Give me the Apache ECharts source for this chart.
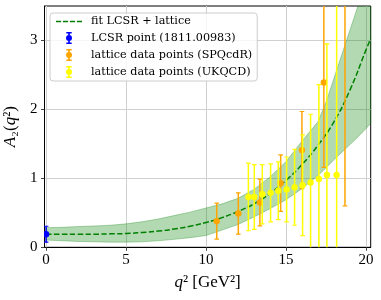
<!DOCTYPE html>
<html><head><meta charset="utf-8">
<script src="https://cdn.jsdelivr.net/npm/echarts@6/dist/echarts.min.js"></script>
<style>html,body{margin:0;padding:0;background:#fff}#c{width:381px;height:300px}</style>
</head><body><div id="c"></div>
<script>
// ---- data ----
const xTicks = [0, 5, 10, 15, 20];
const yTicks = [0, 1, 2, 3];

const fitX = [0,1,2,3,4,5,6,7,8,9,10,11,12,13,14,15,16,17,18,19,20,20.3];
const fitY = [0.19,0.19,0.19,0.19,0.195,0.20,0.215,0.235,0.265,0.305,0.36,0.43,0.52,0.63,0.78,0.97,1.20,1.48,1.82,2.28,2.86,3.03];

const bandX    = [0,1,2,3,4,5,6,7,8,9,10,11,12,13,14,15,16,17,17.5,18,18.5,19,19.5,20,20.3];
const bandHigh = [0.285,0.29,0.30,0.31,0.32,0.34,0.37,0.41,0.46,0.51,0.57,0.63,0.71,0.84,1.02,1.24,1.54,1.82,2.10,2.45,2.80,3.15,3.50,3.90,4.15];
const bandLow  = [0.105,0.095,0.085,0.08,0.075,0.075,0.08,0.095,0.115,0.14,0.17,0.25,0.33,0.44,0.56,0.69,0.85,1.04,1.15,1.27,1.38,1.49,1.60,1.72,1.80];

const lcsrX = [0];
const lcsrY = [0.19];
const lcsrErr = [0.115];

const spqX = [10.67,12.02,13.37,14.67,16.0,17.37,18.69];
const spqY = [0.38,0.49,0.65,0.93,1.41,2.39,4.0];
const spqErr = [0.26,0.30,0.34,0.41,0.56,1.23,3.4];

const ukX = [12.65,13.02,13.52,14.04,14.52,15.04,15.54,16.04,16.54,17.06,17.56,18.17];
const ukY = [0.73,0.73,0.77,0.79,0.82,0.84,0.87,0.90,0.94,0.99,1.05,1.05];
const ukErr = [0.49,0.47,0.43,0.42,0.42,0.47,0.55,0.73,0.99,1.37,1.90,2.70];

const names = ['fit LCSR + lattice','LCSR point (1811.00983)','lattice data points (SPQcdR)','lattice data points (UKQCD)'];
// ---------------------------------------

const ebIcon = 'path://M0.5,0H9.5V2.4H0.5Z M3.6,0H6.4V20H3.6Z M0.5,17.6H9.5V20H0.5Z M0,10A5,5 0 1,1 10,10A5,5 0 1,1 0,10Z';
const dashIcon = 'path://M0,0H5.2V1.6H0Z M7,0H12.2V1.6H7Z M14,0H19.2V1.6H14Z M21,0H26.2V1.6H21Z';

function errSeries(name, xs, ys, es, color) {
  const data = xs.map((x, i) => [x, ys[i], es[i]]);
  return [{
    type: 'custom', name, clip: true, silent: true, z: 3,
    itemStyle: {color},
    data, encode: {x: 0, y: 1},
    renderItem(params, api) {
      const x = api.value(0), y = api.value(1), e = api.value(2);
      const p0 = api.coord([x, y - e]), p1 = api.coord([x, y + e]);
      const c = 2.3;
      return {type: 'group', children: [
        {type: 'line', shape: {x1: p0[0], y1: p0[1], x2: p1[0], y2: p1[1]}, style: {stroke: color, lineWidth: 1.5}},
        {type: 'line', shape: {x1: p0[0]-c, y1: p0[1], x2: p0[0]+c, y2: p0[1]}, style: {stroke: color, lineWidth: 1.2}},
        {type: 'line', shape: {x1: p1[0]-c, y1: p1[1], x2: p1[0]+c, y2: p1[1]}, style: {stroke: color, lineWidth: 1.2}}
      ]};
    }
  }, {
    type: 'custom', name, clip: true, silent: true, z: 3,
    itemStyle: {color},
    data, encode: {x: 0, y: 1},
    renderItem(params, api) {
      const p = api.coord([api.value(0), api.value(1)]);
      return {type: 'circle', shape: {cx: p[0], cy: p[1], r: 3.2}, style: {fill: color}};
    }
  }];
}

const chart = echarts.init(document.getElementById('c'), null, {renderer: 'canvas'});
const tickFont = {fontFamily: 'Liberation Serif', fontSize: 15, color: '#000'};
const nameRich = {
  i: {fontFamily: 'Liberation Serif', fontStyle: 'italic', fontSize: 17, color: '#000'},
  n: {fontFamily: 'Liberation Serif', fontSize: 17, color: '#000'}
};

chart.setOption({
  animation: false,
  grid: {left: 44.5, right: 10.3, top: 6, bottom: 52.7, show: true, borderColor: '#000', borderWidth: 1, outerBoundsMode: 'none', containLabel: false},
  legend: {
    orient: 'vertical', left: 50, top: 13, padding: [3, 5, 3, 6], itemGap: 5,
    itemWidth: 26, itemHeight: 12, selectedMode: false,
    backgroundColor: 'rgba(255,255,255,0.8)', borderColor: '#cccccc', borderWidth: 1, borderRadius: 3,
    textStyle: {fontFamily: 'DejaVu Serif', fontSize: 11.2, color: '#000', padding: [0, 0, 0, 4]},
    data: [
      {name: names[0], icon: dashIcon, itemStyle: {color: '#008000'}},
      {name: names[1], icon: ebIcon},
      {name: names[2], icon: ebIcon},
      {name: names[3], icon: ebIcon}
    ]
  },
  xAxis: {
    type: 'value', min: -0.1, max: 20.3,
    axisLine: {show: true, onZero: false, lineStyle: {color: '#000', width: 1}},
    axisTick: {show: true, inside: false, length: 3.5, customValues: xTicks, lineStyle: {color: '#444'}},
    axisLabel: Object.assign({customValues: xTicks, margin: 5}, tickFont),
    splitLine: {show: true, lineStyle: {color: '#d0d0d0', width: 1}},
    name: '{i|q}{n|² [GeV²]}', nameLocation: 'middle', nameGap: 27,
    nameTextStyle: {rich: nameRich}
  },
  yAxis: {
    type: 'value', min: 0, max: 3.5,
    axisLine: {show: true, onZero: false, lineStyle: {color: '#000', width: 1}},
    axisTick: {show: true, inside: false, length: 3.5, customValues: yTicks, lineStyle: {color: '#444'}},
    axisLabel: Object.assign({customValues: yTicks, margin: 7}, tickFont),
    splitLine: {show: true, lineStyle: {color: '#d0d0d0', width: 1}},
    name: '{i|A}{n|₂(}{i|q}{n|²)}', nameLocation: 'middle', nameGap: 19, nameRotate: 90,
    nameTextStyle: {rich: nameRich}
  },
  series: [
    {
      type: 'custom', name: 'band', silent: true, clip: true, z: 1,
      data: [[0, 0]], encode: {x: 0, y: 1},
      renderItem(params, api) {
        const pts = [];
        for (let i = 0; i < bandX.length; i++) pts.push(api.coord([bandX[i], bandHigh[i]]));
        for (let i = bandX.length - 1; i >= 0; i--) pts.push(api.coord([bandX[i], bandLow[i]]));
        return {type: 'polygon', shape: {points: pts}, style: {fill: 'rgba(0,128,0,0.3)', stroke: 'rgba(0,128,0,0.3)', lineWidth: 1}};
      }
    },
    {
      type: 'line', name: names[0], silent: true, z: 2,
      data: fitX.map((x, i) => [x, fitY[i]]),
      symbol: 'none', showSymbol: false, smooth: 0.5,
      itemStyle: {color: '#008000'},
      lineStyle: {color: '#008000', width: 1.5, type: [5.5, 2.4]}
    },
    ...errSeries(names[1], lcsrX, lcsrY, lcsrErr, '#0000ff'),
    ...errSeries(names[2], spqX, spqY, spqErr, '#ffa500'),
    ...errSeries(names[3], ukX, ukY, ukErr, '#ffff00')
  ]
});
</script></body></html>
